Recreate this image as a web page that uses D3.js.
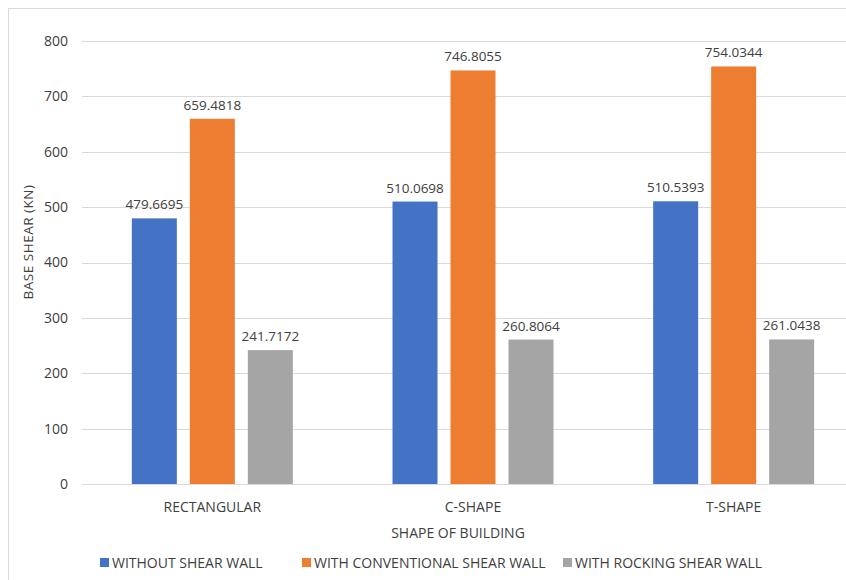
<!DOCTYPE html>
<meta charset="utf-8">
<style>
body { margin: 0; background: #fff; }
svg text { font-family: "Open Sans", sans-serif; fill: #404040; }
</style>
<svg width="846" height="580"></svg>
<script src="https://d3js.org/d3.v7.min.js"></script>
<script>

// chart data
let categories = ["RECTANGULAR", "C-SHAPE", "T-SHAPE"];
let seriesNames = ["WITHOUT SHEAR WALL", "WITH CONVENTIONAL SHEAR WALL", "WITH ROCKING SHEAR WALL"];
let withoutWall = [479.6695, 510.0698, 510.5393];
let conventionalWall = [659.4818, 746.8055, 754.0344];
let rockingWall = [241.7172, 260.8064, 261.0438];
let yTicks = [0, 100, 200, 300, 400, 500, 600, 700, 800];
let colors = ["#4472C4", "#ED7D31", "#A5A5A5"];

let series = [withoutWall, conventionalWall, rockingWall];

let svg = d3.select("svg");

// outer chart border (top/left only visible, the picture is cropped)
svg.append("rect")
  .attr("x", 8.5).attr("y", 8.5)
  .attr("width", 860).attr("height", 600)
  .attr("fill", "none")
  .attr("stroke", "#d9d9d9");

let plotLeft = 82, plotRight = 864, plotTop = 41, plotBottom = 484;

let y = d3.scaleLinear().domain([0, 800]).range([plotBottom, plotTop]);
let x0 = d3.scaleBand().domain(categories).range([plotLeft, plotRight]);
let groupW = 161;
let x1 = d3.scaleBand().domain(d3.range(3)).range([0, groupW]).paddingInner(0.224);

// gridlines
svg.append("g")
  .selectAll("line")
  .data(yTicks)
  .enter().append("line")
  .attr("x1", plotLeft).attr("x2", plotRight)
  .attr("y1", d => Math.round(y(d)) + 0.5)
  .attr("y2", d => Math.round(y(d)) + 0.5)
  .attr("stroke", "#d9d9d9")
  .attr("stroke-width", 1);

// y tick labels
svg.append("g")
  .selectAll("text")
  .data(yTicks)
  .enter().append("text")
  .attr("x", 68)
  .attr("y", d => y(d))
  .attr("dy", "0.35em")
  .attr("text-anchor", "end")
  .attr("font-size", 14)
  .text(d => d);

// bars
let groups = svg.append("g")
  .selectAll("g")
  .data(categories)
  .enter().append("g")
  .attr("transform", d => "translate(" + (x0(d) + (x0.bandwidth() - groupW) / 2) + ",0)");

groups.selectAll("rect")
  .data((d, i) => series.map((s, k) => ({k: k, v: s[i]})))
  .enter().append("rect")
  .attr("x", d => x1(d.k))
  .attr("width", x1.bandwidth())
  .attr("y", d => y(d.v))
  .attr("height", d => y(0) - y(d.v))
  .attr("fill", d => colors[d.k]);

groups.selectAll("text.val")
  .data((d, i) => series.map((s, k) => ({k: k, v: s[i]})))
  .enter().append("text")
  .attr("class", "val")
  .attr("x", d => x1(d.k) + x1.bandwidth() / 2)
  .attr("y", d => y(d.v) - 9)
  .attr("text-anchor", "middle")
  .attr("font-size", 13.5)
  .text(d => d.v.toFixed(4));

// category labels
svg.append("g")
  .selectAll("text")
  .data(categories)
  .enter().append("text")
  .attr("x", d => x0(d) + x0.bandwidth() / 2)
  .attr("y", 507)
  .attr("dy", "0.35em")
  .attr("text-anchor", "middle")
  .attr("font-size", 14)
  .text(d => d);

// axis titles
svg.append("text")
  .attr("x", 458).attr("y", 533)
  .attr("dy", "0.35em")
  .attr("text-anchor", "middle")
  .attr("font-size", 14)
  .text("SHAPE OF BUILDING");

svg.append("text")
  .attr("transform", "translate(28,242) rotate(-90)")
  .attr("dy", "0.35em")
  .attr("text-anchor", "middle")
  .attr("font-size", 13.5)
  .attr("letter-spacing", 0.5)
  .text("BASE SHEAR (KN)");

// legend
let legendX = [100, 302, 563];
let legend = svg.append("g")
  .selectAll("g")
  .data(seriesNames)
  .enter().append("g")
  .attr("transform", (d, i) => "translate(" + legendX[i] + ",563)");

legend.append("rect")
  .attr("x", 0).attr("y", -5)
  .attr("width", 9).attr("height", 9)
  .attr("fill", (d, i) => colors[i]);

legend.append("text")
  .attr("x", 12)
  .attr("dy", "0.35em")
  .attr("font-size", 14)
  .text(d => d);

</script>
